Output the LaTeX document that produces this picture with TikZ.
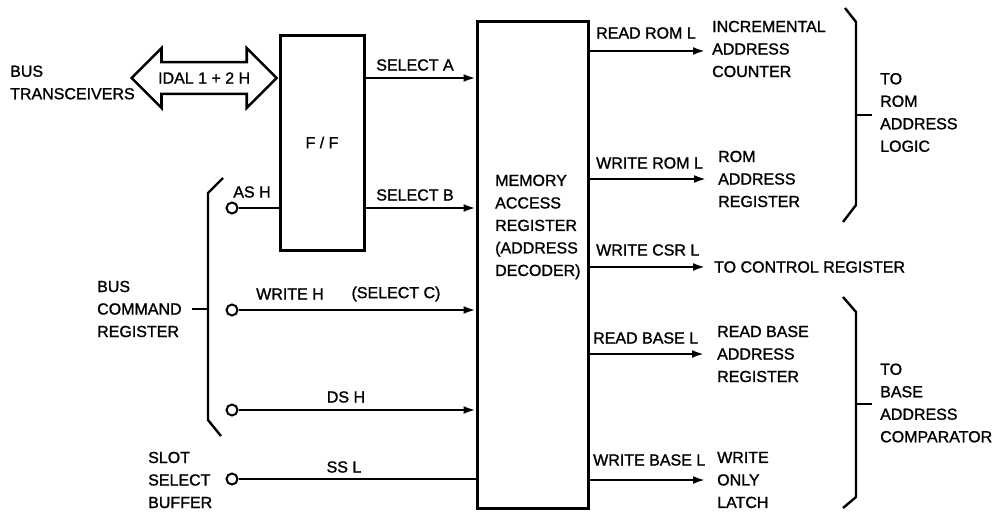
\documentclass[tikz,border=0pt]{standalone}
\usepackage{fontspec}
\setmainfont{Liberation Sans}[FakeBold=1.3]
\usetikzlibrary{arrows.meta, shapes.arrows, positioning}

\begin{document}
\begin{tikzpicture}[x=1pt, y=-1pt, >={Latex[length=12pt, width=8pt]},
    every node/.style={font=\fontsize{16}{22.5}\selectfont, inner sep=0pt},
    box/.style={draw, line width=3pt},
    sig/.style={line width=2.2pt},
    brace/.style={line width=2.4pt},
    pin/.style={draw, circle, line width=2pt, minimum size=11pt, fill=white},
    txt/.style={align=left, anchor=west}]
    \useasboundingbox (0,0) rectangle (995,514);

    % Blocks
    \node[box, minimum width=84pt, minimum height=215pt] (ff) at (322,142.5) {F / F};
    \node[box, minimum width=111pt, minimum height=487pt] (mar) at (532.5,264.5) {};
    \node[txt] (marlbl) at (495,227) {MEMORY\\ACCESS\\REGISTER\\(ADDRESS\\DECODER)};

    % Bus transceivers
    \node[txt] (bus) at (10,82.5) {BUS\\TRANSCEIVERS};
    \node[double arrow, draw, line width=2.6pt, minimum height=145pt,
        double arrow head extend=14pt, inner ysep=9pt, anchor=east]
        (idal) at (ff.west |- 0,78) {IDAL 1 + 2 H};

    % Input pins
    \node[pin] (as) at (232,208) {};
    \node[pin] (wr) at (232,310) {};
    \node[pin] (ds) at (232,410) {};
    \node[pin] (ss) at (232,479) {};

    \draw[sig] (as) -- (ff.west |- as);
    \node (ash) at (252,192) {AS H};
    \draw[sig, ->] (ff.east |- idal) -- (mar.west |- idal);
    \node (sela) at (415,65) {SELECT A};
    \draw[sig, ->] (ff.east |- as) -- (mar.west |- as);
    \node (selb) at (415,195) {SELECT B};
    \draw[sig, ->] (wr) -- (mar.west |- wr);
    \node (wrh) at (290,294) {WRITE H};
    \node (selc) at (396,294) {(SELECT C)};
    \draw[sig, ->] (ds) -- (mar.west |- ds);
    \node (dsh) at (346,397) {DS H};
    \draw[sig] (ss) -- (mar.west |- ss);
    \node (ssl) at (344,467) {SS L};

    % Bus command register
    \draw[brace] (223,178) -- (208,193) -- (208,420) -- (221,436);
    \coordinate (bcrtip) at (208,309);
    \node[txt] (bcr) at (97,309) {BUS\\COMMAND\\REGISTER};
    \draw[brace] (bcrtip) -- ([xshift=10pt]bcr.east |- bcrtip);
    \node[txt] (ssb) at (148,480) {SLOT\\SELECT\\BUFFER};

    % Outputs
    \node[txt] (inc) at (712,49) {INCREMENTAL\\ADDRESS\\COUNTER};
    \node[txt] (rar) at (718,179) {ROM\\ADDRESS\\REGISTER};
    \node[txt] (ctl) at (714,267) {TO CONTROL REGISTER};
    \node[txt] (rba) at (717,354) {READ BASE\\ADDRESS\\REGISTER};
    \node[txt] (wol) at (717,480) {WRITE\\ONLY\\LATCH};

    \draw[sig, ->] (mar.east |- 0,51) -- ([xshift=-7pt]inc.west |- 0,51);
    \node[anchor=west] at (596,33) {READ ROM L};
    \draw[sig, ->] (mar.east |- rar) -- ([xshift=-12pt]rar.west);
    \node[anchor=west] at (596,163) {WRITE ROM L};
    \draw[sig, ->] (mar.east |- ctl) -- ([xshift=-9pt]ctl.west);
    \node[anchor=west] at (596,250) {WRITE CSR L};
    \draw[sig, ->] (mar.east |- rba) -- ([xshift=-13pt]rba.west);
    \node[anchor=west] at (593,338) {READ BASE L};
    \draw[sig, ->] (mar.east |- wol) -- ([xshift=-12pt]wol.west);
    \node[anchor=west] at (593,460) {WRITE BASE L};

    % Right braces
    \draw[brace] (845,8) -- (856,22) -- (856,205) -- (843,222);
    \coordinate (romtip) at (856,115);
    \node[txt] (romlogic) at (880,112.5) {TO\\ROM\\ADDRESS\\LOGIC};
    \draw[brace] (romtip) -- ([xshift=-8pt]romlogic.west |- romtip);

    \draw[brace] (843,297) -- (856,312) -- (856,497) -- (843,508);
    \coordinate (basetip) at (856,404);
    \node[txt] (basecmp) at (880,403) {TO\\BASE\\ADDRESS\\COMPARATOR};
    \draw[brace] (basetip) -- ([xshift=-8pt]basecmp.west |- basetip);
\end{tikzpicture}
\end{document}
